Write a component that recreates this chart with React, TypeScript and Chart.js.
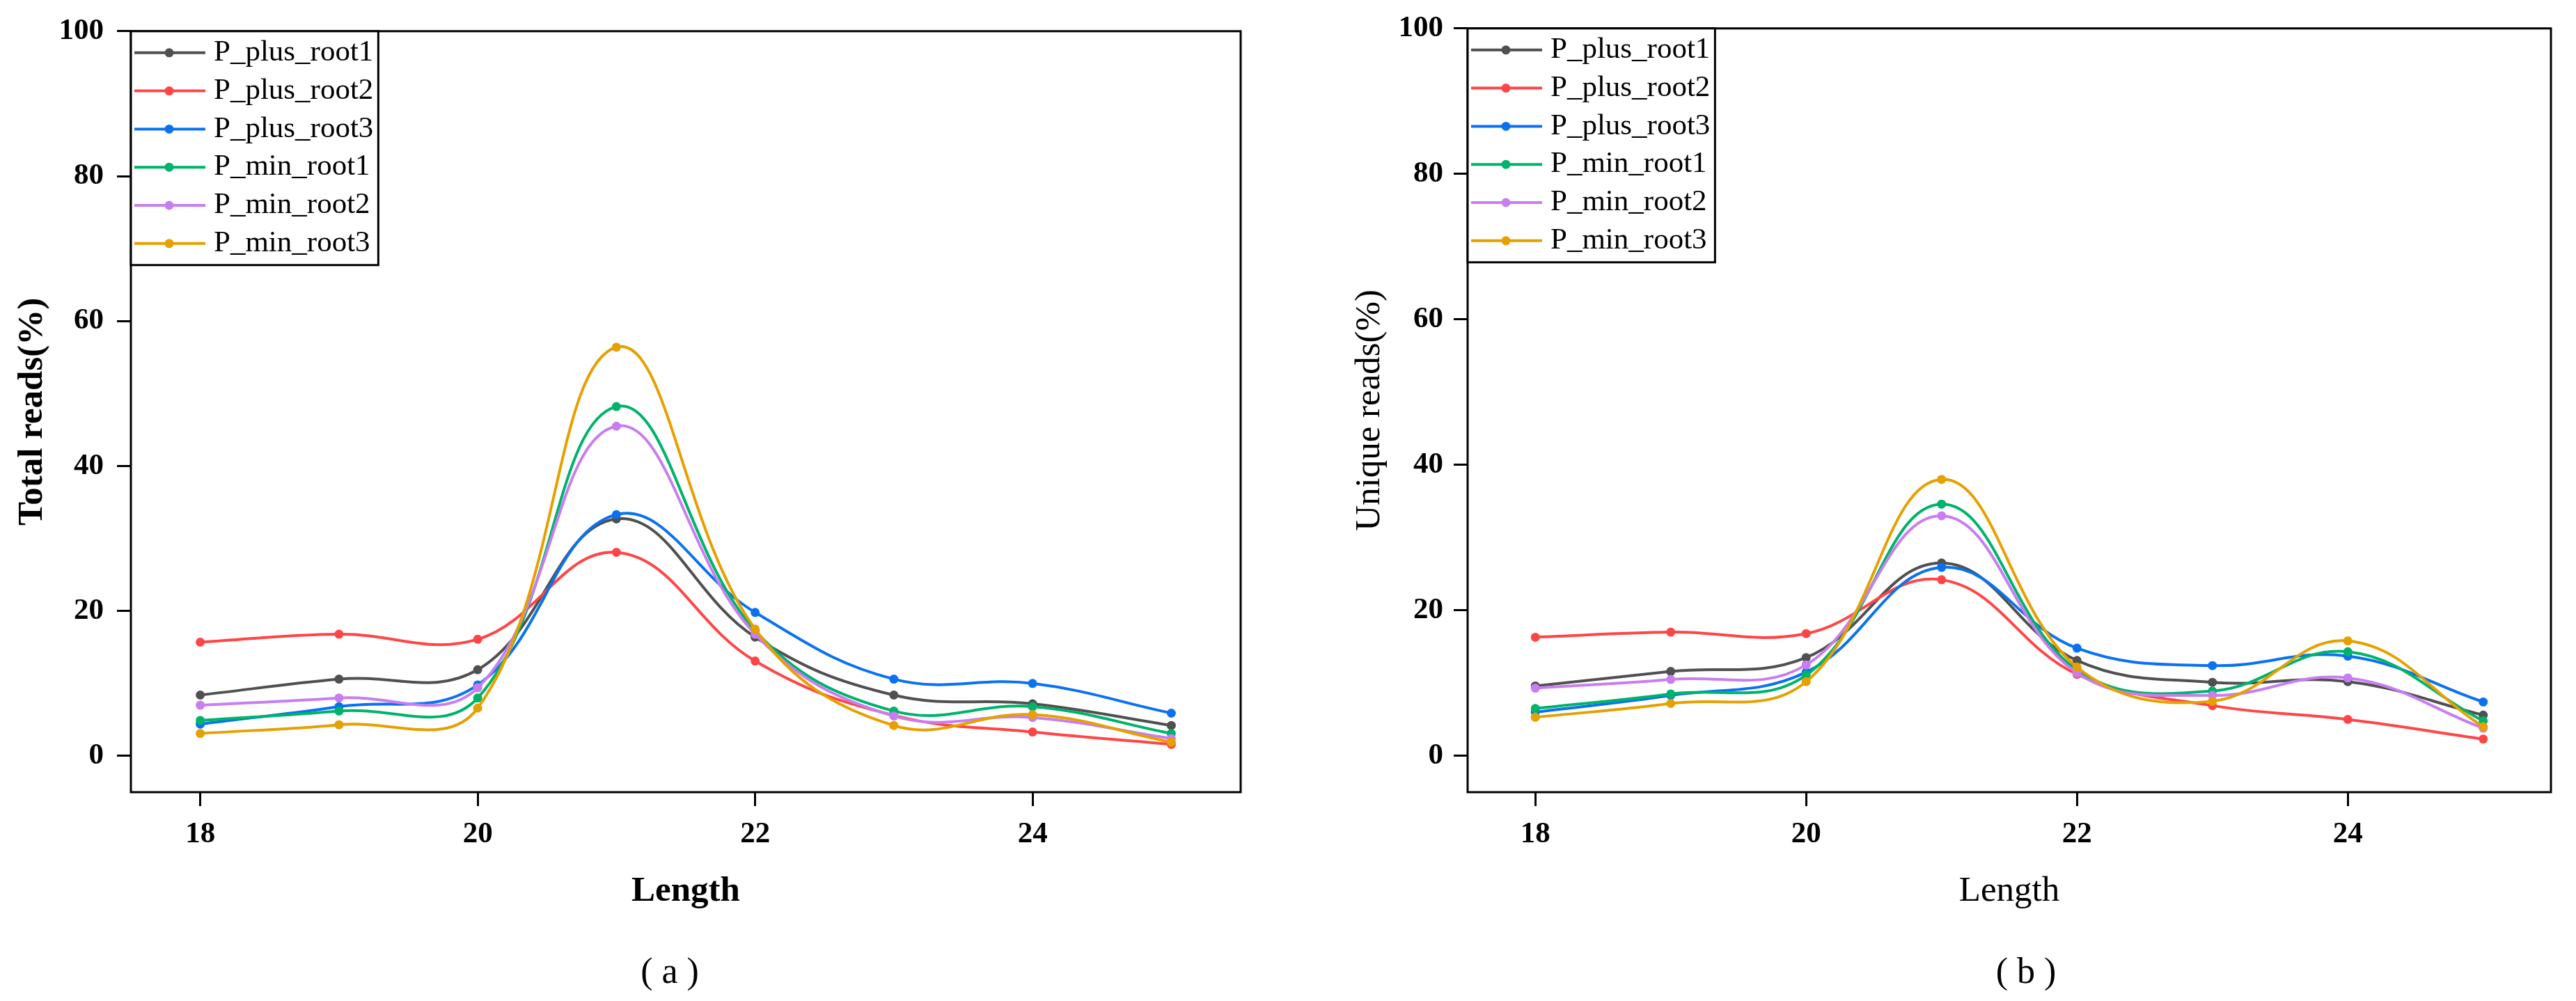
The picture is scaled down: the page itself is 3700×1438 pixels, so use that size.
import { useEffect, useRef } from 'react';
import { Chart, registerables } from 'chart.js';

Chart.register(...registerables);

const lengths = [18, 19, 20, 21, 22, 23, 24, 25];
const seriesNames = ['P_plus_root1', 'P_plus_root2', 'P_plus_root3', 'P_min_root1', 'P_min_root2', 'P_min_root3'];
const seriesColors = ['#505050', '#ff4646', '#0a72f0', '#00b36b', '#c87ef0', '#e6a000'];

// (a) total reads, %
const totalPlusRoot1 = [8.4, 10.6, 11.9, 32.7, 16.4, 8.4, 7.2, 4.2];
const totalPlusRoot2 = [15.7, 16.8, 16.1, 28.1, 13.1, 5.6, 3.3, 1.6];
const totalPlusRoot3 = [4.4, 6.8, 9.8, 33.3, 19.8, 10.6, 10.0, 5.9];
const totalMinRoot1 = [4.9, 6.2, 8.0, 48.2, 17.3, 6.2, 6.8, 3.1];
const totalMinRoot2 = [7.0, 8.0, 9.4, 45.5, 16.8, 5.5, 5.3, 2.4];
const totalMinRoot3 = [3.1, 4.3, 6.6, 56.4, 17.5, 4.2, 5.7, 1.9];

// (b) unique reads, %
const uniquePlusRoot1 = [9.6, 11.6, 13.5, 26.5, 13.1, 10.1, 10.2, 5.6];
const uniquePlusRoot2 = [16.3, 17.0, 16.8, 24.2, 11.2, 6.9, 5.0, 2.3];
const uniquePlusRoot3 = [6.0, 8.3, 11.5, 25.9, 14.8, 12.4, 13.7, 7.4];
const uniqueMinRoot1 = [6.5, 8.5, 11.1, 34.6, 11.8, 8.9, 14.3, 4.8];
const uniqueMinRoot2 = [9.3, 10.5, 12.5, 33.0, 11.4, 8.3, 10.7, 3.8];
const uniqueMinRoot3 = [5.3, 7.2, 10.2, 38.0, 12.2, 7.5, 15.8, 4.0];

const xTicks = [18, 20, 22, 24];
const yTicks = [0, 20, 40, 60, 80, 100];

const FONT = "'Liberation Serif', 'Times New Roman', serif";

// box round the plot plus the boxed legend in its top-left corner
const frameLegend = {
  id: 'frameLegend',
  afterDatasetsDraw(chart: any) {
    const { ctx, chartArea: a } = chart;
    ctx.save();
    ctx.strokeStyle = '#000';
    ctx.lineWidth = 3;
    ctx.strokeRect(a.left, a.top, a.right - a.left, a.bottom - a.top);

    ctx.font = `43px ${FONT}`;
    const labels: string[] = chart.data.datasets.map((d: any) => d.label);
    const maxW = Math.max(...labels.map((t) => ctx.measureText(t).width));
    const boxW = 119 + maxW + 7;
    const boxH = 336;
    ctx.fillStyle = '#fff';
    ctx.fillRect(a.left, a.top, boxW, boxH);
    ctx.strokeRect(a.left, a.top, boxW, boxH);

    chart.data.datasets.forEach((d: any, i: number) => {
      const y = a.top + 31 + i * 54.8;
      ctx.strokeStyle = d.borderColor;
      ctx.lineWidth = 4;
      ctx.beginPath();
      ctx.moveTo(a.left + 5, y);
      ctx.lineTo(a.left + 107, y);
      ctx.stroke();
      ctx.fillStyle = d.borderColor;
      ctx.beginPath();
      ctx.arc(a.left + 55, y, 6.5, 0, Math.PI * 2);
      ctx.fill();
      ctx.fillStyle = '#000';
      ctx.textBaseline = 'middle';
      ctx.textAlign = 'left';
      ctx.fillText(d.label, a.left + 119, y);
    });
    ctx.restore();
  }
};

interface PanelProps {
  series: number[][];
  yTitle: string;
  bold: boolean;
  yAxisWidth: number;
  rightPad: number;
  yTitlePad: number;
  tickPad: number;
}

const Panel: React.FC<PanelProps> = ({ series, yTitle, bold, yAxisWidth, rightPad, yTitlePad, tickPad }) => {
  const canvas = useRef<HTMLCanvasElement | null>(null);

  useEffect(() => {
    const node = canvas.current;
    if (!node) {
      return;
    }
    const tickFont = { family: FONT, size: 43, weight: 'bold' as const, lineHeight: 1.2 };
    const titleFont = { family: FONT, size: 51, weight: bold ? ('bold' as const) : ('normal' as const), lineHeight: 1 };
    const axisGrid = {
      display: true,
      drawOnChartArea: false,
      drawTicks: true,
      tickLength: 20,
      tickWidth: 3,
      tickColor: '#000'
    };

    const chart = new Chart(node, {
      type: 'line',
      data: {
        datasets: series.map((vals, i) => ({
          label: seriesNames[i],
          data: lengths.map((x, j) => ({ x, y: vals[j] })),
          borderColor: seriesColors[i],
          backgroundColor: seriesColors[i],
          borderWidth: 4,
          pointRadius: 6.5,
          pointBorderWidth: 0,
          tension: 0.4,
          fill: false,
          order: series.length - 1 - i
        }))
      },
      options: {
        responsive: false,
        animation: false,
        layout: { padding: { left: 0, top: 37, right: rightPad, bottom: 0 } },
        plugins: {
          legend: { display: false },
          tooltip: { enabled: false }
        },
        scales: {
          x: {
            type: 'linear',
            min: 17.5,
            max: 25.5,
            afterBuildTicks: (s: any) => {
              s.ticks = xTicks.map((v) => ({ value: v }));
            },
            afterFit: (s: any) => {
              s.height = 300;
            },
            grid: axisGrid,
            border: { display: false },
            ticks: { padding: 15, color: '#000', font: tickFont, autoSkip: false, maxRotation: 0 },
            title: {
              display: true,
              text: 'Length',
              color: '#000',
              font: titleFont,
              padding: { top: 0, bottom: 132 }
            }
          },
          y: {
            type: 'linear',
            min: -5,
            max: 100,
            afterBuildTicks: (s: any) => {
              s.ticks = yTicks.map((v) => ({ value: v }));
            },
            afterFit: (s: any) => {
              s.width = yAxisWidth;
            },
            grid: axisGrid,
            border: { display: false },
            ticks: { padding: tickPad, color: '#000', font: tickFont },
            title: {
              display: true,
              text: yTitle,
              color: '#000',
              font: titleFont,
              padding: { top: yTitlePad, bottom: 0 }
            }
          }
        }
      },
      plugins: [frameLegend]
    });

    return () => {
      chart.destroy();
    };
  }, [series, yTitle, bold, yAxisWidth, rightPad, yTitlePad, tickPad]);

  return (
    <canvas
      ref={canvas}
      width={1850}
      height={1438}
      style={{ width: 1850, height: 1438, display: 'block' }}
      aria-label={yTitle}
      role="img"
    />
  );
};

const totalSeries = [totalPlusRoot1, totalPlusRoot2, totalPlusRoot3, totalMinRoot1, totalMinRoot2, totalMinRoot3];
const uniqueSeries = [uniquePlusRoot1, uniquePlusRoot2, uniquePlusRoot3, uniqueMinRoot1, uniqueMinRoot2, uniqueMinRoot3];

const captionStyle = (x: number): React.CSSProperties => ({
  position: 'absolute',
  left: x,
  top: 1395,
  transform: 'translate(-50%, -50%)',
  fontFamily: FONT,
  fontSize: 52,
  lineHeight: 1,
  whiteSpace: 'pre',
  color: '#000'
});

export default function App() {
  return (
    <div style={{ position: 'absolute', left: 0, top: 0, width: 3700, height: 1438, background: '#fff', overflow: 'hidden' }}>
      <div style={{ position: 'absolute', left: 0, top: 0 }}>
        <Panel series={totalSeries} yTitle="Total reads(%)" bold yAxisWidth={188} rightPad={68} yTitlePad={21} tickPad={19} />
      </div>
      <div style={{ position: 'absolute', left: 1850, top: 0 }}>
        <Panel series={uniqueSeries} yTitle="Unique reads(%)" bold={false} yAxisWidth={258} rightPad={36} yTitlePad={92} tickPad={15} />
      </div>
      <div style={captionStyle(962)}>( a )</div>
      <div style={captionStyle(2910)}>( b )</div>
    </div>
  );
}
